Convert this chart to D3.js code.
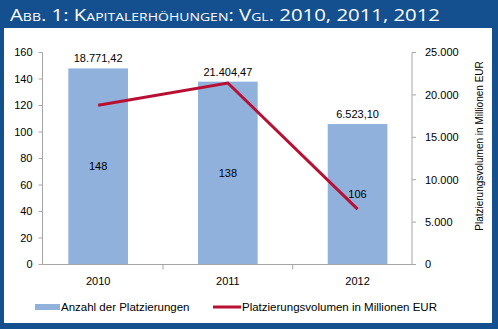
<!DOCTYPE html>
<html>
<head>
<meta charset="utf-8">
<script src="https://cdn.jsdelivr.net/npm/d3@7"></script>
<style>
  body { margin: 0; background: #fff; }
  svg text { font-family: "Liberation Sans", Arial, sans-serif; }
</style>
</head>
<body>
<div id="chart"></div>
<script>
var years = ["2010", "2011", "2012"];
var counts = [148, 138, 106];
var volumes = [18771.42, 21404.47, 6523.10];
var countTicks = [0, 20, 40, 60, 80, 100, 120, 140, 160];
var volumeTicks = [0, 5000, 10000, 15000, 20000, 25000];

var W = 498, H = 329;
var FRAME = "#14508f";
var BAR = "#8fb1dc";
var LINE = "#b80f33";
var AXIS = "#a6a6a6";

var de = d3.formatLocale({decimal: ",", thousands: ".", grouping: [3], currency: ["", " €"]});
var INT = de.format(",d");
var DEC = de.format(",.2f");

var svg = d3.select("#chart").append("svg")
  .attr("width", W)
  .attr("height", H);

// frame + title bar
svg.append("rect").attr("width", W).attr("height", H).attr("fill", FRAME);
svg.append("rect")
  .attr("x", 4).attr("y", 28)
  .attr("width", 488).attr("height", 295)
  .attr("fill", "#fff");

svg.append("text")
  .attr("x", 10)
  .attr("y", 21)
  .attr("fill", "#fff")
  .style("font-family", "'Open Sans', Lato, sans-serif")
  .style("font-variant", "small-caps")
  .style("font-size", "16px")
  .attr("textLength", 430)
  .attr("lengthAdjust", "spacingAndGlyphs")
  .text("Abb. 1: Kapitalerhöhungen: Vgl. 2010, 2011, 2012");

var plotLeft = 42.5, plotRight = 412, plotTop = 52.5, plotBottom = 264.5;

var x = d3.scaleBand().domain(years).range([33.3, 422.4]).padding(0);
var barW = x.bandwidth() * 0.46;
var yL = d3.scaleLinear().domain([0, 160]).range([plotBottom, plotTop]);
var yR = d3.scaleLinear().domain([0, 25000]).range([plotBottom, plotTop]);

// left axis
var gl = svg.append("g");
gl.append("line")
  .attr("x1", plotLeft).attr("x2", plotLeft)
  .attr("y1", plotTop).attr("y2", plotBottom)
  .attr("stroke", AXIS);
countTicks.forEach(function(t){
  gl.append("line")
    .attr("x1", plotLeft - 4).attr("x2", plotLeft)
    .attr("y1", yL(t)).attr("y2", yL(t))
    .attr("stroke", AXIS);
  gl.append("text")
    .attr("x", 32.5)
    .attr("y", yL(t))
    .attr("dy", "0.35em")
    .attr("text-anchor", "end")
    .style("font-size", "11px")
    .text(t);
});

// right axis
var gr = svg.append("g");
gr.append("line")
  .attr("x1", plotRight).attr("x2", plotRight)
  .attr("y1", plotTop).attr("y2", plotBottom)
  .attr("stroke", AXIS);
volumeTicks.forEach(function(t){
  gr.append("line")
    .attr("x1", plotRight).attr("x2", plotRight + 4)
    .attr("y1", yR(t)).attr("y2", yR(t))
    .attr("stroke", AXIS);
  gr.append("text")
    .attr("x", 425)
    .attr("y", yR(t))
    .attr("dy", "0.35em")
    .style("font-size", "11px")
    .text(INT(t));
});
svg.append("text")
  .attr("transform", "translate(482.5,146) rotate(-90)")
  .attr("text-anchor", "middle")
  .style("font-size", "10px")
  .text("Platzierungsvolumen in Millionen EUR");

// bars
svg.selectAll(".bar")
  .data(years)
  .enter().append("rect")
    .attr("class", "bar")
    .attr("x", function(d){ return x(d) + (x.bandwidth() - barW) / 2; })
    .attr("y", function(d, i){ return yL(counts[i]); })
    .attr("width", barW)
    .attr("height", function(d, i){ return plotBottom - yL(counts[i]); })
    .attr("fill", BAR);

// x axis
svg.append("line")
  .attr("x1", plotLeft).attr("x2", plotRight)
  .attr("y1", plotBottom).attr("y2", plotBottom)
  .attr("stroke", AXIS);
years.slice(1).forEach(function(d){
  svg.append("line")
    .attr("x1", x(d)).attr("x2", x(d))
    .attr("y1", plotBottom).attr("y2", plotBottom + 5)
    .attr("stroke", AXIS);
});
svg.selectAll(".xlab")
  .data(years)
  .enter().append("text")
    .attr("class", "xlab")
    .attr("x", function(d){ return x(d) + x.bandwidth() / 2; })
    .attr("y", 285)
    .attr("text-anchor", "middle")
    .style("font-size", "11px")
    .text(function(d){ return d; });

// line
var line = d3.line()
  .x(function(d, i){ return x(years[i]) + x.bandwidth() / 2; })
  .y(function(d){ return yR(d); });
svg.append("path")
  .datum(volumes)
  .attr("d", line)
  .attr("fill", "none")
  .attr("stroke", LINE)
  .attr("stroke-width", 3);

// labels: count in middle of bar, volume above bar
svg.selectAll(".cnt")
  .data(counts)
  .enter().append("text")
    .attr("x", function(d, i){ return x(years[i]) + x.bandwidth() / 2; })
    .attr("y", function(d){ return (yL(d) + plotBottom) / 2; })
    .attr("dy", "0.35em")
    .attr("text-anchor", "middle")
    .style("font-size", "11px")
    .text(function(d){ return d; });
svg.selectAll(".vol")
  .data(volumes)
  .enter().append("text")
    .attr("x", function(d, i){ return x(years[i]) + x.bandwidth() / 2; })
    .attr("y", function(d, i){ return yL(counts[i]) - 6; })
    .attr("text-anchor", "middle")
    .style("font-size", "11px")
    .text(function(d){ return DEC(d); });

// legend
var lg = svg.append("g").attr("transform", "translate(0,307)");
lg.append("rect")
  .attr("x", 35).attr("y", -3)
  .attr("width", 25).attr("height", 6)
  .attr("fill", BAR);
lg.append("text")
  .attr("x", 61).attr("dy", "0.35em")
  .style("font-size", "11.5px")
  .text("Anzahl der Platzierungen");
lg.append("line")
  .attr("x1", 213).attr("x2", 241)
  .attr("stroke", LINE)
  .attr("stroke-width", 3);
lg.append("text")
  .attr("x", 242).attr("dy", "0.35em")
  .style("font-size", "11.5px")
  .text("Platzierungsvolumen in Millionen EUR");
</script>
</body>
</html>
